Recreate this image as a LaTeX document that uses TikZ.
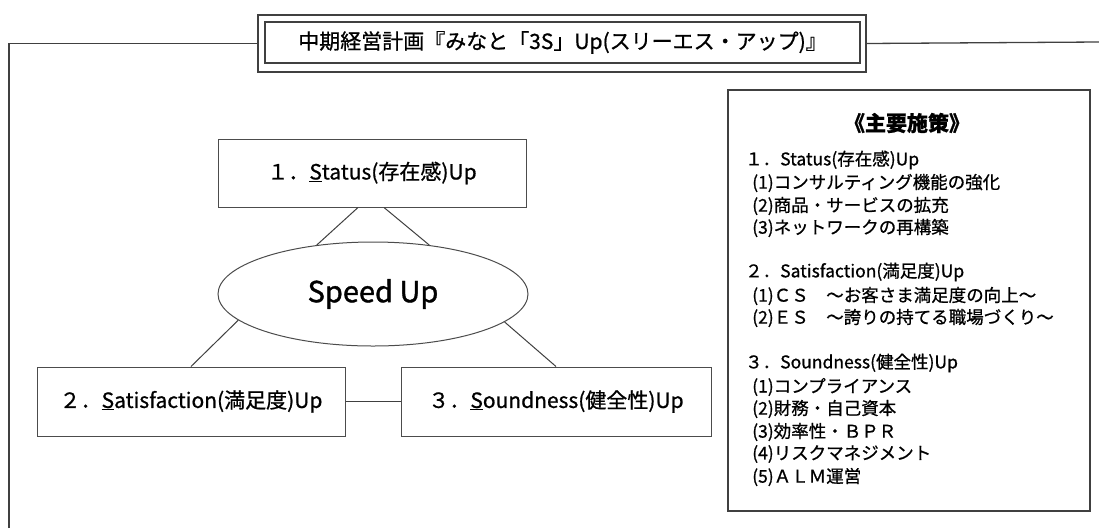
\documentclass[tikz,border=0pt]{standalone}
\usepackage{fontspec}
\setmainfont{Noto Sans CJK JP}[FakeBold=0.8]
\newfontfamily\speedfont{Noto Sans CJK JP}[FakeBold=1.2]
\usetikzlibrary{shapes.geometric,calc}
\begin{document}
\begin{tikzpicture}[x=1pt,y=-1pt,
  frame/.style={draw=black!75,line width=1.3pt},
  tbox/.style={draw=black!75,line width=1.1pt,rectangle,inner sep=0pt},
  box/.style={draw=black!70,line width=1pt,rectangle,inner sep=0pt,minimum height=69,font=\fontsize{21}{24}\selectfont},
  link/.style={draw=black!75,line width=1pt},
  item/.style={anchor=west,inner sep=0pt,font=\fontsize{17.5}{20}\selectfont}]
\useasboundingbox (0,0) rectangle (1099,528);
\fill[white] (0,0) rectangle (1099,528);
% outer frame with title
\node[tbox,minimum width=608,minimum height=57] (tout) at (562,43.5) {};
\node[tbox,minimum width=595,minimum height=41,font=\fontsize{21}{24}\selectfont] (title) at (562.5,42.5) {中期経営計画『みなと「3S」Up(スリーエス・アップ)』};
\coordinate (fbl) at (9,528);
\coordinate (fr) at (1099,42);
\draw[frame] (fbl) |- (tout.west);
\draw[frame] (tout.east) -- (fr);
% diagram
\node[box,minimum width=308,minimum height=68] (status) at (372,173) {１．\underline{S}tatus(存在感)Up};
\node[draw=black!70,line width=1pt,ellipse,inner sep=0pt,minimum width=310,minimum height=104,font=\speedfont\fontsize{29}{34}\selectfont] (ell) at (373,294) {Speed Up};
\node[box,minimum width=308] (sat) at (191,401.5) {２．\underline{S}atisfaction(満足度)Up};
\node[box,minimum width=310] (sound) at (556,401.5) {３．\underline{S}oundness(健全性)Up};
\draw[link] ($(status.south)+(-14,0)$) -- (ell.139);
\draw[link] ($(status.south)+(12,0)$) -- (ell.41.6);
\draw[link] (ell.191.7) -- (sat.north);
\draw[link] (ell.348.3) -- (sound.north);
\draw[link] (sat.east) -- (sound.west);
% panel
\node[tbox,minimum width=362,minimum height=421] (panel) at (909,300.5) {};
\node[inner sep=0pt,font=\fontsize{21}{24}\selectfont\bfseries] (ptitle) at (907,123) {《主要施策》};
\node[item] (a0) at (745,160) {１．Status(存在感)Up};
\node[item] (a1) at (752,183) {(1)コンサルティング機能の強化};
\node[item] (a2) at (752,206) {(2)商品・サービスの拡充};
\node[item] (a3) at (752,228) {(3)ネットワークの再構築};
\node[item] (b0) at (745,272) {２．Satisfaction(満足度)Up};
\node[item] (b1) at (752,296) {(1)ＣＳ　～お客さま満足度の向上～};
\node[item] (b2) at (752,318) {(2)ＥＳ　～誇りの持てる職場づくり～};
\node[item] (c0) at (745,363) {３．Soundness(健全性)Up};
\node[item] (c1) at (752,387) {(1)コンプライアンス};
\node[item] (c2) at (752,409) {(2)財務・自己資本};
\node[item] (c3) at (752,432) {(3)効率性・ＢＰＲ};
\node[item] (c4) at (752,454) {(4)リスクマネジメント};
\node[item] (c5) at (752,477) {(5)ＡＬＭ運営};
\end{tikzpicture}
\end{document}
